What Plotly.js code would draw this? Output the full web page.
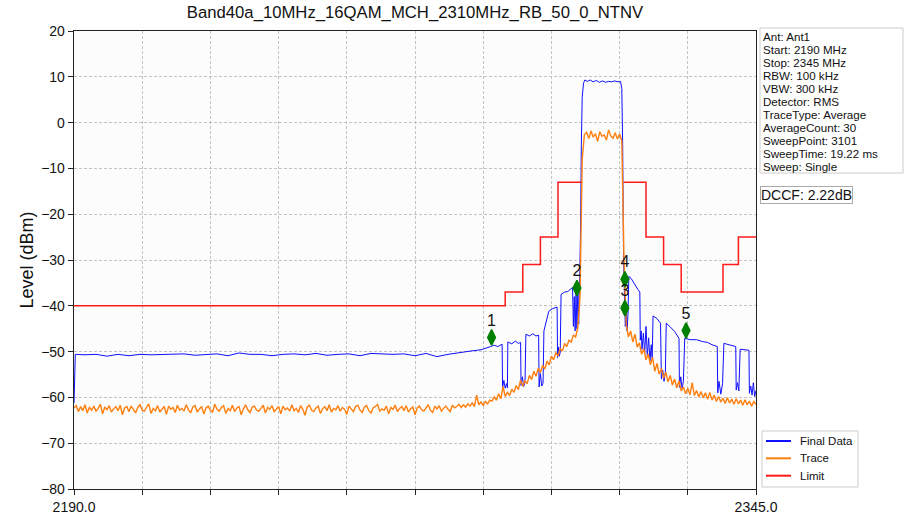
<!DOCTYPE html>
<html>
<head>
<meta charset="utf-8">
<script src="https://cdn.plot.ly/plotly-3.0.1.min.js"></script>
<style>html,body{margin:0;padding:0;background:#fff;}#chart{width:904px;height:518px;}</style>
</head>
<body>
<div id="chart"></div>
<script>
// ---- data ----
const titleText = "Band40a_10MHz_16QAM_MCH_2310MHz_RB_50_0_NTNV";
const startMHz = 2190;
const stopMHz = 2345;
const traceStepMHz = 0.5;

const blueFreq = [2190, 2190.3, 2192.5, 2195, 2197.5, 2200, 2202.5, 2205, 2207.5, 2210, 2212.5, 2215, 2217.5, 2220, 2222.5, 2225, 2227.5, 2230, 2232.5, 2235, 2237.5, 2240, 2242.5, 2245, 2247.5, 2250, 2252.5, 2255, 2257.5, 2260, 2262.5, 2265, 2267.5, 2270, 2272.5, 2275, 2277.5, 2280, 2282.5, 2284,
 2284.7, 2285.5, 2286.3, 2287.3, 2287.4, 2287.7, 2288.0, 2288.3, 2288.5, 2288.6, 2289.5, 2290.3, 2291.0, 2291.5, 2291.6, 2291.9, 2292.2, 2292.5, 2292.7, 2293.5, 2294.3, 2295.0, 2295.6, 2295.7, 2296.0, 2296.3, 2296.6, 2296.8, 2297.3, 2297.9, 2298.8, 2299.8, 2299.9, 2300.1, 2300.3, 2300.5, 2300.7, 2301.5, 2302.2, 2302.8, 2303.3, 2303.5, 2303.7, 2303.9, 2304.1, 2304.3, 2304.5, 2304.7, 2304.9, 2305.1, 2305.3, 2305.5, 2305.8,
 2306.1, 2306.7, 2307.3, 2308.0, 2308.7, 2309.4, 2310.1, 2310.8, 2311.5, 2312.2, 2312.9, 2313.6, 2314.2, 2314.5, 2314.7, 2314.9,
 2315.1, 2315.3, 2315.5, 2315.7, 2315.9, 2316.1, 2316.6, 2317.2, 2317.7, 2318.2, 2318.6, 2318.7, 2318.9, 2319.1, 2319.4, 2319.7, 2320.0, 2320.3, 2320.6, 2320.9, 2321.2, 2321.4, 2321.6, 2322.5, 2323.3, 2323.5, 2323.8, 2324.1, 2324.4, 2324.6, 2325.5, 2326.5, 2327.5, 2327.6, 2327.9, 2328.2, 2328.5, 2328.8, 2330.0, 2331.5, 2332.8, 2334.0, 2335.0, 2336.2, 2336.3, 2336.6, 2337.0, 2337.4, 2337.7, 2339.0, 2340.4, 2340.5, 2340.8, 2341.1, 2341.4, 2342.5, 2343.4, 2343.5, 2343.8, 2344.1, 2344.4, 2344.7, 2345.0];
const blueLevel = [-61.2, -50.6, -50.7, -50.6, -51.0, -50.6, -50.9, -50.6, -50.7, -50.6, -50.6, -50.5, -50.8, -50.6, -50.5, -50.9, -50.3, -50.6, -50.6, -50.9, -50.6, -50.5, -50.7, -50.4, -50.8, -50.6, -50.5, -50.9, -50.4, -50.5, -50.6, -50.5, -50.9, -50.4, -51.1, -50.6, -50.2, -49.9, -49.6, -49.2,
 -48.9, -48.6, -48.9, -48.4, -57.8, -56.3, -58.0, -57.0, -57.9, -47.9, -48.3, -47.7, -48.2, -48.0, -57.4, -55.5, -57.6, -56.8, -46.2, -46.6, -46.1, -46.6, -46.4, -57.7, -54.8, -57.5, -56.9, -45.5, -43.5, -41.2, -40.6, -40.3, -51.3, -49.0, -51.0, -50.2, -37.5, -37.0, -36.9, -36.4, -36.0, -44.5, -38.0, -45.5, -37.2, -45.0, -36.5, -44.0, -35.0, -25.0, -5.0, 5.5, 8.6,
 9.3, 9.0, 9.3, 8.9, 9.2, 8.8, 9.1, 8.8, 9.0, 8.9, 9.1, 8.9, 9.0, 7.5, -5.0, -30.0,
 -40.0, -44.5, -41.0, -45.5, -42.0, -33.6, -34.0, -35.0, -35.8, -36.5, -37.0, -47.5, -45.5, -49.5, -46.0, -50.5, -44.5, -51.0, -47.0, -52.0, -48.5, -51.5, -42.2, -42.8, -43.8, -56.0, -54.0, -56.5, -54.5, -43.8, -44.6, -45.6, -47.1, -57.8, -55.5, -58.0, -56.5, -47.1, -47.4, -47.4, -47.8, -48.0, -48.5, -48.9, -59.0, -56.5, -59.3, -57.0, -48.2, -48.5, -48.9, -58.4, -56.8, -58.6, -49.5, -49.6, -49.7, -59.1, -57.5, -59.5, -56.8, -59.8, -58.5];

// Trace (orange), one value per 0.5 MHz from 2190 to 2345
const orangeLevel = [
 -62.3, -61.8, -63.1, -62.0, -62.9, -61.6, -63.4, -62.2, -62.8, -61.9,
 -63.0, -62.4, -61.5, -63.6, -62.1, -62.7, -61.8, -63.2, -62.5, -62.0,
 -62.9, -61.7, -63.8, -62.3, -62.0, -63.1, -61.9, -62.6, -63.4, -62.2,
 -61.6, -62.8, -63.0, -62.1, -61.4, -63.5, -62.4, -62.9, -61.8, -63.2,
 -62.5, -62.0, -63.7, -61.9, -62.6, -62.2, -63.3, -61.7, -62.8, -62.4,
 -63.0, -61.6, -62.7, -63.4, -62.1, -61.8, -63.1, -62.5, -62.0, -63.6,
 -62.3, -61.9, -62.8, -63.2, -61.5, -62.6, -63.0, -62.2, -61.8, -63.5,
 -62.4, -62.9, -61.7, -63.1, -62.3, -62.0, -63.8, -62.5, -61.6, -62.7,
 -63.3, -62.1, -61.9, -62.8, -63.0, -62.4, -61.7, -63.4, -62.2, -62.6,
 -61.8, -63.1, -62.5, -62.0, -63.6, -61.9, -62.7, -62.3, -63.0, -61.6,
 -62.9, -62.4, -63.3, -61.8, -62.6, -63.9, -62.1, -61.7, -62.8, -63.1,
 -62.3, -61.9, -63.5, -62.5, -62.0, -62.9, -61.6, -63.2, -62.4, -62.7,
 -61.8, -63.0, -62.2, -62.6, -63.7, -61.9, -62.5, -63.1, -62.0, -61.7,
 -62.8, -63.3, -62.1, -61.8, -62.9, -63.4, -62.3, -62.0, -61.6, -63.0,
 -62.5, -62.8, -61.9, -63.6, -62.2, -62.6, -61.7, -63.1, -62.4, -62.0,
 -62.9, -61.8, -63.2, -62.5, -62.1, -63.8, -62.3, -61.9, -62.7, -63.0,
 -62.2, -61.6, -62.8, -63.3, -62.0, -62.5, -61.8, -63.0, -62.4, -61.9,
 -62.6, -63.1, -61.7, -62.3, -62.0, -61.5, -62.2, -61.6, -62.1, -61.4,
 -61.9, -61.2, -62.0, -59.5, -61.6, -61.0, -61.8, -60.9, -61.4, -60.6,
 -60.8, -59.9, -60.6, -59.2, -60.3, -57.6, -59.8, -58.9, -59.6, -58.2,
 -58.9, -57.4, -58.3, -56.2, -57.5, -56.4, -57.0, -55.2, -56.1, -54.3,
 -55.4, -53.6, -54.6, -53.0, -53.8, -52.1, -52.9, -51.0, -51.8, -50.2,
 -51.0, -49.3, -49.9, -48.2, -48.9, -47.5, -47.9, -46.4, -46.8, -44.8,
 -38.0, -8.0,
 -2.6, -2.1, -3.5, -1.8, -3.2, -2.4, -4.1, -2.0, -3.0, -2.7, -3.8, -1.6, -2.9, -3.4, -2.2, -3.6, -2.5,
 -4.0, -30.0,
 -44.0, -46.8, -45.5, -47.9, -46.2, -49.0, -48.1, -50.6, -49.4, -51.8,
 -50.5, -52.9, -51.2, -54.3, -52.6, -54.9, -53.7, -55.8, -54.5, -56.6,
 -55.2, -57.3, -56.0, -57.9, -56.4, -58.6, -57.7, -59.2, -58.0, -59.4,
 -56.8, -59.6, -58.5, -59.9, -58.7, -60.1, -59.0, -60.4, -58.9, -60.6,
 -59.5, -60.9, -59.8, -61.0, -60.2, -61.3, -60.1, -61.2, -60.4, -61.5,
 -60.3, -61.4, -60.6, -61.7, -60.5, -61.6, -60.8, -61.9, -60.9, -61.5];

const limitFreq  = [2190, 2288, 2292, 2296, 2300, 2305.4, 2310, 2314.9, 2320, 2324, 2328, 2337.5, 2341, 2345];
const limitLevel = [-40, -37, -31, -25, -13, -13, null, -13, -25, -31, -37, -31, -25, -25];

const markerFreq  = [2284.9, 2304.3, 2315.2, 2315.2, 2329.1];
const markerLevel = [-46.9, -36.1, -40.5, -34.2, -45.4];
const markerLabel = ["1", "2", "3", "4", "5"];

const xTickVals = [2190, 2205.5, 2221, 2236.5, 2252, 2267.5, 2283, 2298.5, 2314, 2329.5, 2345];
const xTickText = ["2190.0", "", "", "", "", "", "", "", "", "", "2345.0"];

const seriesNames = ["Final Data", "Trace", "Limit"];
const seriesColors = ["#1010ff", "#ff7f0e", "#ff1a1a"];

const infoLines = ["Ant: Ant1", "Start: 2190 MHz", "Stop: 2345 MHz", "RBW: 100 kHz", "VBW: 300 kHz", "Detector: RMS", "TraceType: Average", "AverageCount: 30", "SweepPoint: 3101", "SweepTime: 19.22 ms", "Sweep: Single"];
const dccfText = "DCCF: 2.22dB";

// ---- build ----
const orangeFreq = orangeLevel.map((_, i) => startMHz + i * traceStepMHz);

const FONT = "Liberation Sans, Arial, sans-serif";
// pixel helpers for the plot frame
const PL = 74, PR = 756, PT = 31, PB = 489;
const px = v => (v - PL) / (PR - PL);
const py = v => (PB - v) / (PB - PT);

const data = [
  {x: blueFreq, y: blueLevel, type: "scatter", mode: "lines", name: seriesNames[0],
   line: {color: seriesColors[0], width: 1}, showlegend: false},
  {x: orangeFreq, y: orangeLevel, type: "scatter", mode: "lines", name: seriesNames[1],
   line: {color: seriesColors[1], width: 1.4}, showlegend: false},
  {x: limitFreq, y: limitLevel, type: "scatter", mode: "lines", name: seriesNames[2],
   line: {color: seriesColors[2], width: 1.5, shape: "hv"}, connectgaps: false, showlegend: false},
  {x: markerFreq, y: markerLevel, type: "scatter", mode: "markers+text", text: markerLabel,
   textposition: "top center", textfont: {family: FONT, size: 16, color: "#111"},
   marker: {symbol: "diamond-tall", size: 11, color: "#008000", line: {color: "#008000", width: 1.5}},
   showlegend: false, hoverinfo: "skip"}
];

const annotations = [];
const shapes = [];

// info box
const lineY0 = 36.5, lineStep = 13.0;
shapes.push({type: "rect", xref: "paper", yref: "paper", x0: px(760), x1: px(903), y0: py(173), y1: py(28),
  line: {color: "#cccccc", width: 1}, fillcolor: "#ffffff", layer: "below"});
infoLines.forEach((t, i) => {
  annotations.push({xref: "paper", yref: "paper", x: px(762), y: py(lineY0 + i * lineStep),
    xanchor: "left", yanchor: "middle", text: t, showarrow: false, borderpad: 0,
    font: {family: FONT, size: 11.6, color: "#111"}});
});
// DCCF box
annotations.push({xref: "paper", yref: "paper", x: px(760), y: py(194.5), xanchor: "left", yanchor: "middle",
  text: dccfText, showarrow: false, font: {family: FONT, size: 14, color: "#111"},
  bordercolor: "#aaaaaa", borderwidth: 1, borderpad: 0, bgcolor: "#ffffff"});

// legend (drawn box, sample lines, labels)
shapes.push({type: "rect", xref: "paper", yref: "paper", x0: px(762), x1: px(858), y0: py(487), y1: py(431),
  line: {color: "#cccccc", width: 1}, fillcolor: "#ffffff"});
const legY = [441, 458.3, 475.7];
seriesNames.forEach((n, i) => {
  shapes.push({type: "line", xref: "paper", yref: "paper", x0: px(766), x1: px(791), y0: py(legY[i]), y1: py(legY[i]),
    line: {color: seriesColors[i], width: 2}});
  annotations.push({xref: "paper", yref: "paper", x: px(799), y: py(legY[i]), xanchor: "left", yanchor: "middle",
    text: n, showarrow: false, borderpad: 0, font: {family: FONT, size: 11.5, color: "#111"}});
});

const layout = {
  width: 904, height: 518,
  margin: {l: PL, r: 904 - PR, t: PT, b: 518 - PB, pad: 0},
  paper_bgcolor: "#ffffff", plot_bgcolor: "#fcfcfc",
  font: {family: FONT, size: 14, color: "#111"},
  showlegend: false,
  title: {text: titleText, font: {family: FONT, size: 16.7, color: "#111"},
          x: (PL + PR) / 2 / 904, xanchor: "center", xref: "container",
          y: 1 - 12.5 / 518, yanchor: "middle", yref: "container"},
  xaxis: {range: [startMHz, stopMHz], tickmode: "array", tickvals: xTickVals, ticktext: xTickText,
          ticks: "outside", ticklen: 5, tickwidth: 1, tickcolor: "#222",
          showline: true, linecolor: "#222", linewidth: 1.3, mirror: true,
          showgrid: true, gridcolor: "#b5b5b5", gridwidth: 0.8, griddash: "3px,2px",
          zeroline: false, tickfont: {family: FONT, size: 14, color: "#111"}, fixedrange: true},
  yaxis: {range: [-80, 20], dtick: 10, tick0: 0, ticks: "outside", ticklen: 5, tickwidth: 1, tickcolor: "#222",
          showline: true, linecolor: "#222", linewidth: 1.3, mirror: true,
          showgrid: true, gridcolor: "#b5b5b5", gridwidth: 0.8, griddash: "3px,2px",
          zeroline: false, tickfont: {family: FONT, size: 14, color: "#111"},
          title: {text: "Level (dBm)", font: {family: FONT, size: 18, color: "#111"}, standoff: 3},
          fixedrange: true},
  annotations: annotations,
  shapes: shapes
};

Plotly.newPlot("chart", data, layout, {displayModeBar: false, staticPlot: true});
</script>
</body>
</html>
